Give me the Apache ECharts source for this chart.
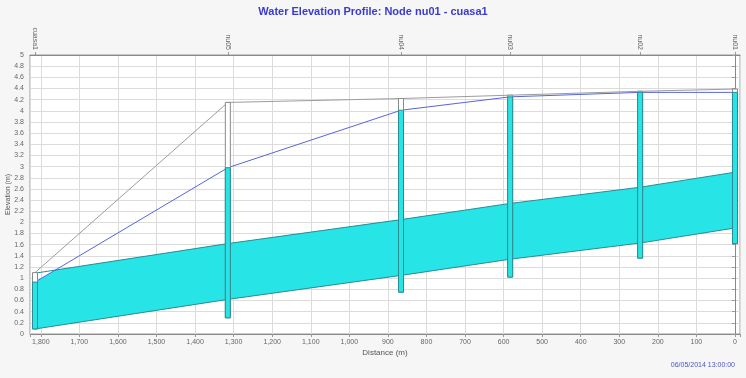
<!DOCTYPE html>
<html><head><meta charset="utf-8">
<script src="https://cdn.jsdelivr.net/npm/echarts@6/dist/echarts.min.js"></script>
<style>html,body{margin:0;padding:0;background:#f6f6f6}#c{width:746px;height:378px}</style>
</head><body><div id="c"></div>
<script>
const titleText = 'Water Elevation Profile: Node nu01 - cuasa1';
const timeText = '06/05/2014 13:00:00';
const nodeNames = ['cuasa1', 'nu05', 'nu04', 'nu03', 'nu02', 'nu01'];
const nodeDist = [1815, 1315, 866, 583, 246, 0];
const nodeInvert = [0.09, 0.29, 0.75, 1.02, 1.36, 1.62];
const nodeGround = [1.10, 4.15, 4.22, 4.28, 4.35, 4.39];
const nodeWater = [0.93, 2.98, 4.01, 4.25, 4.33, 4.33];
const linkInvert = [0.09, 0.62, 1.05, 1.34, 1.63, 1.90];
const linkDepth = [1.0, 1.0, 1.0, 1.0, 1.0];
const yMax = 5;

const CYAN = '#27e4e6', TEAL = '#2a8c92';

function renderConduit(params, api) {
  const i = api.value(0);
  const x0 = nodeDist[i], x1 = nodeDist[i + 1];
  const b0 = linkInvert[i], b1 = linkInvert[i + 1];
  const c0 = b0 + linkDepth[i], c1 = b1 + linkDepth[i];
  const h0 = nodeWater[i], h1 = nodeWater[i + 1];
  const d0 = h0 - c0, d1 = h1 - c1;
  const top = [[x0, Math.min(c0, h0)]];
  if (d0 * d1 < 0) {
    const t = d0 / (d0 - d1);
    top.push([x0 + (x1 - x0) * t, c0 + (c1 - c0) * t]);
  }
  top.push([x1, Math.min(c1, h1)]);
  const poly = [[x0, b0], [x1, b1]].concat(top.slice().reverse()).map(p => api.coord(p));
  return {
    type: 'group',
    children: [
      { type: 'polygon', shape: { points: poly }, style: { fill: CYAN, stroke: null } },
      { type: 'polyline', shape: { points: [api.coord([x0, c0]), api.coord([x1, c1])] }, style: { stroke: TEAL, lineWidth: 1, fill: null } },
      { type: 'polyline', shape: { points: [api.coord([x0, b0]), api.coord([x1, b1])] }, style: { stroke: TEAL, lineWidth: 1, fill: null } }
    ]
  };
}

function renderNode(params, api) {
  const i = api.value(0);
  const pBot = api.coord([nodeDist[i], nodeInvert[i]]);
  const pTop = api.coord([nodeDist[i], nodeGround[i]]);
  const pW = api.coord([nodeDist[i], nodeWater[i]]);
  const w = 5;
  const x = pBot[0] - w / 2;
  return {
    type: 'group',
    children: [
      { type: 'rect', shape: { x: x, y: pTop[1], width: w, height: pBot[1] - pTop[1] }, style: { fill: '#ffffff', stroke: '#8a8a8a', lineWidth: 1 } },
      { type: 'rect', shape: { x: x, y: pW[1], width: w, height: pBot[1] - pW[1] }, style: { fill: CYAN, stroke: TEAL, lineWidth: 1 } }
    ]
  };
}

const chart = echarts.init(document.getElementById('c'));
const fmtDist = v => (Math.abs(v % 100) > 1e-6 ? '' : v.toLocaleString('en-US'));
chart.setOption({
  backgroundColor: '#f6f6f6',
  animation: false,
  title: [
    { text: titleText, left: 'center', top: 1, textStyle: { color: '#3a3ad2', fontSize: 11, fontWeight: 'bold', fontFamily: 'Liberation Sans, Arial, sans-serif' } },
    { text: timeText, right: 6, top: 357, textStyle: { color: '#4a55c8', fontSize: 7, fontWeight: 'normal', fontFamily: 'Liberation Sans, Arial, sans-serif' } }
  ],
  grid: { left: 30, right: 6, top: 55, bottom: 44, outerBoundsMode: 'none', containLabel: false, show: true, backgroundColor: '#ffffff', borderColor: '#9a9a9a', borderWidth: 1 },
  xAxis: [
    {
      type: 'value', inverse: true, min: -13, max: 1828, splitNumber: 18, minInterval: 100, maxInterval: 100,
      name: 'Distance (m)', nameLocation: 'middle', nameGap: 15, nameMoveOverlap: false,
      nameTextStyle: { fontSize: 8, color: '#555', fontFamily: 'Liberation Sans, Arial, sans-serif' },
      axisLine: { show: true, lineStyle: { color: '#888' } },
      axisTick: { show: true, length: 3, lineStyle: { color: '#999' } },
      axisLabel: { fontSize: 7, color: '#666', margin: 5, interval: 0, formatter: fmtDist, fontFamily: 'Liberation Sans, Arial, sans-serif' },
      splitLine: { show: true, lineStyle: { color: '#dcdcdc', width: 1 } }
    },
    {
      type: 'value', inverse: true, min: -13, max: 1828, position: 'top',
      axisLine: { show: true, lineStyle: { color: '#888' } },
      axisTick: { show: true, length: 3, customValues: nodeDist, lineStyle: { color: '#999' } },
      axisLabel: { show: true, customValues: nodeDist, rotate: 90, fontSize: 7, color: '#666', margin: 5,
        formatter: v => { const k = nodeDist.indexOf(v); return k >= 0 ? nodeNames[k] : ''; },
        fontFamily: 'Liberation Sans, Arial, sans-serif' },
      splitLine: { show: false }
    }
  ],
  yAxis: {
    type: 'value', min: 0, max: yMax, interval: 0.2,
    name: 'Elevation (m)', nameLocation: 'middle', nameGap: 18, nameMoveOverlap: false,
    nameTextStyle: { fontSize: 7, color: '#555', fontFamily: 'Liberation Sans, Arial, sans-serif' },
    axisLine: { show: true, lineStyle: { color: '#888' } },
    axisTick: { show: true, length: 3, lineStyle: { color: '#999' } },
    axisLabel: { fontSize: 7, color: '#666', margin: 6, formatter: v => String(Math.round(v * 10) / 10), fontFamily: 'Liberation Sans, Arial, sans-serif' },
    splitLine: { show: true, lineStyle: { color: '#dcdcdc', width: 1 } }
  },
  series: [
    { type: 'custom', xAxisIndex: 0, renderItem: renderConduit, data: linkDepth.map((d, i) => [i]), z: 2, silent: true, clip: true },
    { type: 'line', xAxisIndex: 0, data: nodeDist.map((d, i) => [d, nodeGround[i]]), symbol: 'none', lineStyle: { color: '#9c9c9c', width: 1 }, z: 3 },
    { type: 'line', xAxisIndex: 0, data: nodeDist.map((d, i) => [d, nodeWater[i]]), symbol: 'none', lineStyle: { color: '#5666dc', width: 1 }, z: 3 },
    { type: 'custom', xAxisIndex: 0, renderItem: renderNode, data: nodeDist.map((d, i) => [i]), z: 4, silent: true }
  ]
});
</script></body></html>
